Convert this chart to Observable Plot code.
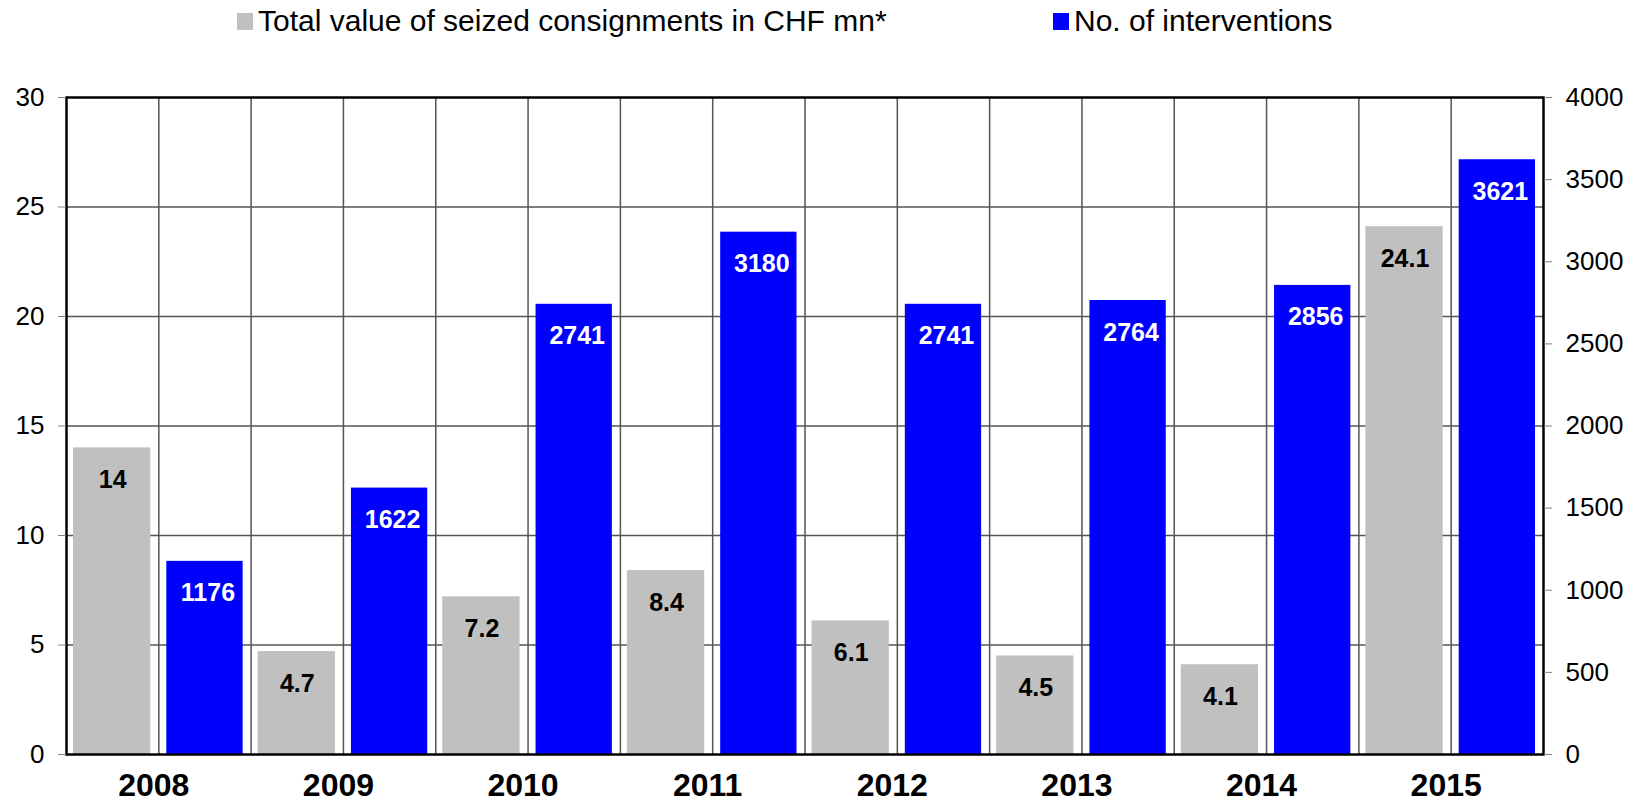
<!DOCTYPE html>
<html><head><meta charset="utf-8">
<script src="https://cdn.jsdelivr.net/npm/d3@7"></script>
<script src="https://cdn.jsdelivr.net/npm/@observablehq/plot@0.6"></script>
<style>
body{margin:0;background:#fff;font-family:"Liberation Sans",Arial,sans-serif;}
#legend{position:relative;height:42px;font-size:30px;color:#000;width:1643px;}
.item{position:absolute;top:4px;display:flex;align-items:center;white-space:nowrap;}
.sw{width:16px;height:17px;margin-right:5px;}
</style></head><body>
<div id="legend"></div>
<div id="chart"></div>
<script>
const years = [2008, 2009, 2010, 2011, 2012, 2013, 2014, 2015];
const seizedValue = [14, 4.7, 7.2, 8.4, 6.1, 4.5, 4.1, 24.1];
const interventions = [1176, 1622, 2741, 3180, 2741, 2764, 2856, 3621];
const leftTicks = [0, 5, 10, 15, 20, 25, 30];
const rightTicks = [0, 500, 1000, 1500, 2000, 2500, 3000, 3500, 4000];
const seriesNames = ["Total value of seized consignments in CHF mn*", "No. of interventions"];
const seriesColors = ["#c0c0c0", "#0000ff"];
const leftMax = 30, rightMax = 4000;
const toLeft = v => v * leftMax / rightMax;

// legend
const legend = document.getElementById("legend");
const legendLeft = [237, 1053];
seriesNames.forEach((name, i) => {
  const it = document.createElement("div");
  it.className = "item";
  it.style.left = legendLeft[i] + "px";
  const sw = document.createElement("span");
  sw.className = "sw";
  sw.style.background = seriesColors[i];
  const tx = document.createElement("span");
  tx.textContent = name;
  it.appendChild(sw); it.appendChild(tx);
  legend.appendChild(it);
});

const gray = years.map((y, i) => ({year: y, x1: 2 * i, x2: 2 * i + 1, value: seizedValue[i]}));
const blue = years.map((y, i) => ({year: y, x1: 2 * i + 1, x2: 2 * i + 2, value: interventions[i], scaled: toLeft(interventions[i])}));
const font = "'Liberation Sans', Arial, sans-serif";

const chart = Plot.plot({
  width: 1643, height: 763,
  marginTop: 55, marginBottom: 51, marginLeft: 66, marginRight: 100,
  x: {domain: [0, 16]},
  y: {domain: [0, leftMax]},
  style: {fontFamily: font, background: "white", color: "black"},
  marks: [
    Plot.ruleY(leftTicks.filter(t => t > 0 && t < leftMax), {stroke: "#555", strokeWidth: 1.5}),
    Plot.ruleX(d3.range(1, 16), {stroke: "#555", strokeWidth: 1.5}),
    Plot.rectY(gray, {x1: "x1", x2: "x2", y: "value", fill: seriesColors[0], insetLeft: 7, insetRight: 8}),
    Plot.rectY(blue, {x1: "x1", x2: "x2", y: "scaled", fill: seriesColors[1], insetLeft: 8, insetRight: 8}),
    Plot.text(gray, {x: d => (d.x1 + d.x2) / 2, y: "value", text: d => String(d.value), dy: 32, fontWeight: "bold", fontSize: 25, fill: "black"}),
    Plot.text(blue, {x: d => (d.x1 + d.x2) / 2, y: "scaled", text: d => String(d.value), dy: 32, dx: 3, fontWeight: "bold", fontSize: 25, fill: "white"}),
    Plot.frame({stroke: "black", strokeWidth: 2.5}),
    Plot.axisY({anchor: "left", ticks: leftTicks, tickSize: 8, tickPadding: 14, fontSize: 26, label: null, stroke: "#808080", fill: "black"}),
    Plot.axisY({anchor: "right", ticks: rightTicks.map(toLeft), tickFormat: d => String(Math.round(d * rightMax / leftMax)), tickSize: 8, tickPadding: 14, fontSize: 26, label: null, stroke: "#808080", fill: "black"}),
    Plot.axisX({ticks: years.map((y, i) => 2 * i + 1), tickFormat: d => String(years[(d - 1) / 2]), tickSize: 0, tickPadding: 19, dx: -5, fontSize: 32, fontWeight: "bold", label: null, fill: "black"})
  ]
});
document.getElementById("chart").appendChild(chart);
</script>
</body></html>
